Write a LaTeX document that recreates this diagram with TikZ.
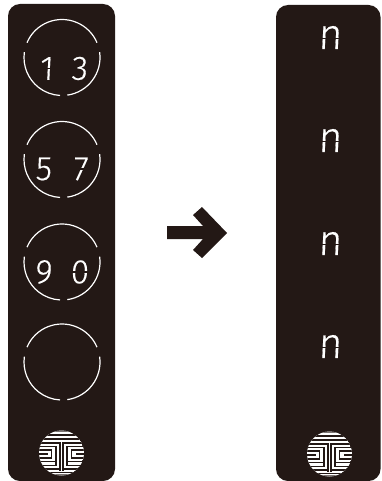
\documentclass[tikz,border=0pt]{standalone}
\usepackage{fontspec}
\setmainfont{Fira Sans}[UprightFont=* Light,FakeBold=0.35,AutoFakeBold=0]
\definecolor{panelink}{HTML}{231815}
\tikzset{
  panel/.style={fill=panelink,rounded corners=12pt,draw=none},
  ringarc/.style={draw=white,line width=1.2pt},
  digit/.style={text=white,inner sep=0pt,font=\fontsize{34}{34}\selectfont,xscale=0.98,xslant=0.05,transform shape},
  letter/.style={text=white,inner sep=0pt,font=\fontsize{43}{43}\selectfont,xscale=0.95,xslant=0.05,transform shape},
  segcut/.style={draw=panelink,line width=1.3pt},
  logoline/.style={draw=panelink,line width=1.45pt},
  logo/.pic={
    \begin{scope}
      \clip (0,0) circle (22.5pt);
      \fill[white] (0,0) circle (22.5pt);
      \fill[panelink!60] (-10,-24) rectangle (10,-21.3);
      \fill[panelink!60] (-10,24) rectangle (10,21.3);
      \foreach \s in {1,-1}{
        \begin{scope}[xscale=\s]
          \draw[logoline] (0,-18) -- (24,-18);
          \draw[logoline] (0,-14) -- (24,-14);
          \draw[logoline] (1.6,18) -- (1.6,-10) -- (24,-10);
          \draw[logoline] (5.6,12.5) -- (5.6,-6.5) -- (24,-6.5);
          \draw[logoline] (24,-3) -- (10,-3) -- (10,5) -- (24,5);
          \draw[logoline] (24,0.8) -- (14,0.8);
          \draw[logoline] (24,8.5) -- (5.6,8.5);
          \draw[logoline] (24,12.5) -- (5.6,12.5);
          \draw[logoline] (24,16) -- (1.6,16);
          \draw[logoline] (0,19.5) -- (24,19.5);
        \end{scope}
      }
    \end{scope}
  },
  ring/.pic={
    \draw[ringarc] (157:38pt) arc[start angle=157,end angle=23,radius=38pt];
    \draw[ringarc] (172:38pt) arc[start angle=172,end angle=267,radius=38pt];
    \draw[ringarc] (8:38pt) arc[start angle=8,end angle=-82,radius=38pt];
  }
}
\begin{document}
\begin{tikzpicture}[x=1pt,y=-1pt]
\useasboundingbox (0,0) rectangle (381,481);
% panels
\fill[panel] (8,4) rectangle (115,481);
\fill[panel] (276,5) rectangle (380.5,481);
% rings
\pic at (62,57.5) {ring};
\pic at (62,159.5) {ring};
\pic at (62,262) {ring};
\pic at (62,362) {ring};
% digits
\node[digit] (d1) at (47,68.5) {1};
\node[digit] (d3) at (80,68.5) {3};
\node[digit] (d5) at (44,169) {5};
\node[digit] (d7) at (81,169) {7};
\node[digit] (d9) at (44,272) {9};
\node[digit] (d0) at (80,272) {0};
% segment gaps
\draw[segcut] (d1.center) ++(-8,0) -- ++(16,0);
\draw[segcut] (d7.center) ++(-8,0) -- ++(16,0);
\draw[segcut] (d0.center) ++(-9,0) -- ++(18,0);
% right panel letters
\node[letter] (n1) at (330.5,37.5) {n};
\node[letter] (n2) at (330.5,140.5) {n};
\node[letter] (n3) at (330.5,243.5) {n};
\node[letter] (n4) at (330.5,346.5) {n};
\foreach \n in {n1,n2,n3,n4}
  \draw[segcut] (\n.center) ++(-11,1) -- ++(22,0);
% logos
\pic at (61.5,453) {logo};
\pic at (329.5,454) {logo};
% arrow
\fill[panelink] (167,226) -- (203,226) -- (193,215) -- (202,207) -- (227,233)
  -- (202,258) -- (193,250) -- (203,239) -- (167,239) -- cycle;
\end{tikzpicture}
\end{document}
